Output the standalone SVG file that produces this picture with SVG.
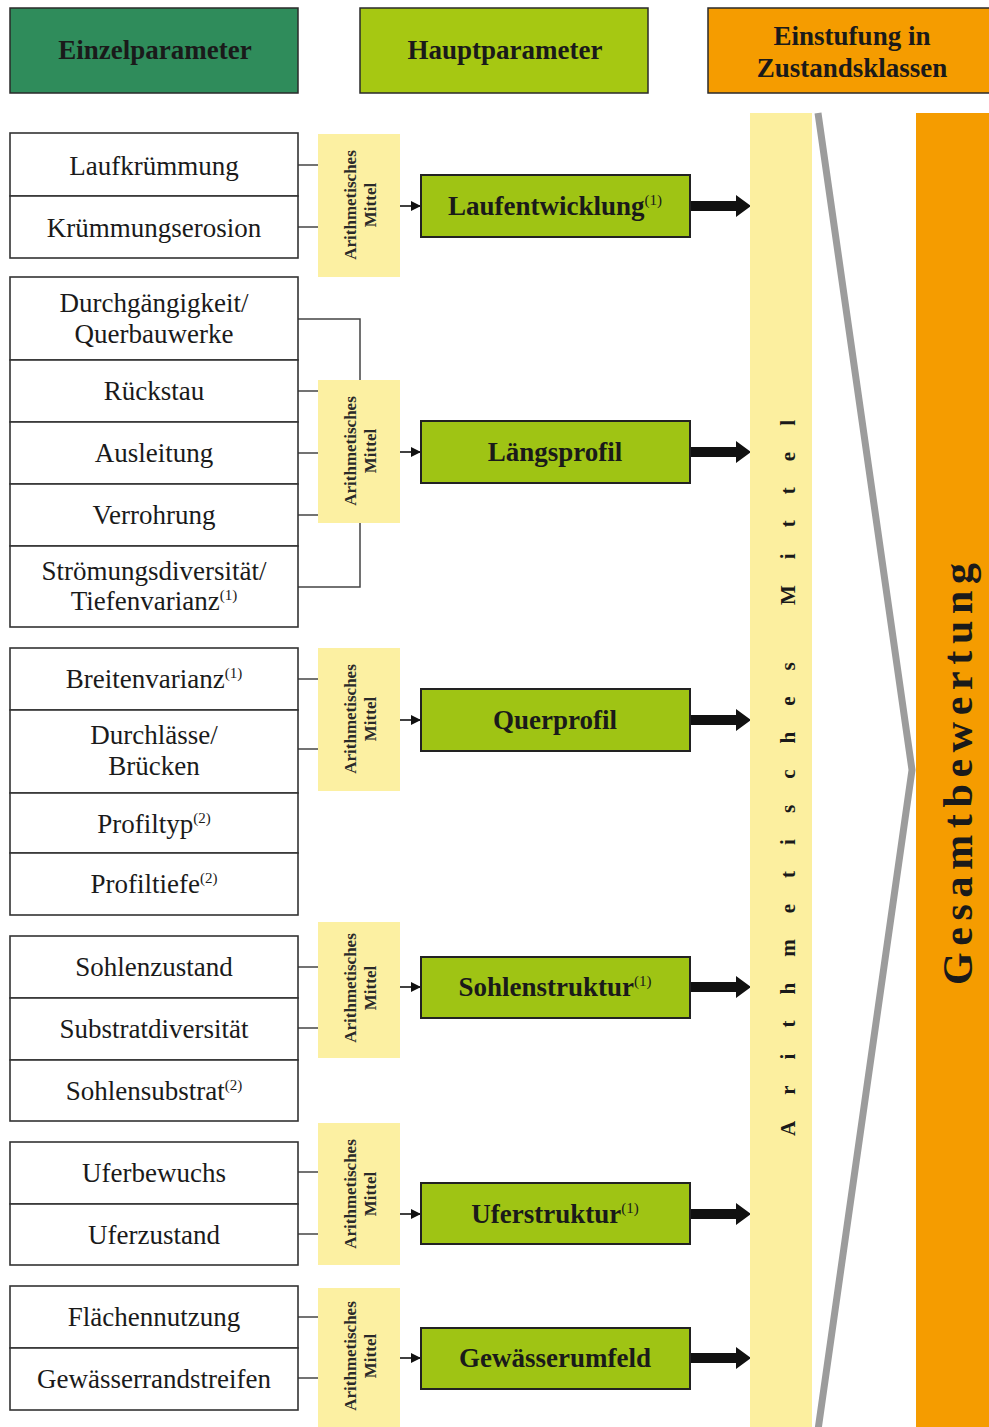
<svg xmlns="http://www.w3.org/2000/svg" width="989" height="1427" viewBox="0 0 989 1427">
<style>
.hdr{stroke:#2a2a2a;stroke-width:1.5}
.param rect{fill:#fff;stroke:#333;stroke-width:1.6}
.pt{font-family:"Liberation Serif",serif;font-size:27px;fill:#1a1a1a;text-anchor:middle}
.ht{font-family:"Liberation Serif",serif;font-size:27px;font-weight:bold;fill:#1a1a1a;text-anchor:middle}
.mean rect{fill:#fcf0a2}
.mt{font-family:"Liberation Serif",serif;font-size:17px;font-weight:bold;fill:#2a2a2a;text-anchor:middle}
.main rect{fill:#9fc414;stroke:#222;stroke-width:2}
.sup{font-size:15px;font-weight:normal}
.tick{stroke:#444;stroke-width:1.5;fill:none}
.big{fill:#111}
</style>
<defs>
<marker id="sa" viewBox="0 0 10 10" refX="10" refY="5" markerWidth="10" markerHeight="10" markerUnits="userSpaceOnUse" orient="auto">
<path d="M0,0 L10,5 L0,10 z" fill="#111"/>
</marker>
</defs>

<!-- headers -->
<g id="hdr-einzel"><rect class="hdr" x="10" y="8" width="288" height="85" fill="#2f8c5b"/><text class="ht" x="155" y="59">Einzelparameter</text></g>
<g id="hdr-haupt"><rect class="hdr" x="360" y="8" width="288" height="85" fill="#a6c812"/><text class="ht" x="505" y="59">Hauptparameter</text></g>
<g id="hdr-einstufung"><rect class="hdr" x="708" y="8" width="290" height="85" fill="#f59c00"/><text class="ht" x="852" y="45">Einstufung in</text><text class="ht" x="852" y="77">Zustandsklassen</text></g>

<!-- connectors -->
<g id="connectors">
<g class="tick">
<line x1="298" y1="165" x2="318" y2="165"/>
<line x1="298" y1="227" x2="318" y2="227"/>
<polyline points="298,319 360,319 360,587 298,587"/>
<line x1="298" y1="391" x2="318" y2="391"/>
<line x1="298" y1="453" x2="318" y2="453"/>
<line x1="298" y1="515" x2="318" y2="515"/>
<line x1="298" y1="679" x2="318" y2="679"/>
<line x1="298" y1="749" x2="318" y2="749"/>
<line x1="298" y1="967" x2="318" y2="967"/>
<line x1="298" y1="1028" x2="318" y2="1028"/>
<line x1="298" y1="1172" x2="318" y2="1172"/>
<line x1="298" y1="1234" x2="318" y2="1234"/>
<line x1="298" y1="1317" x2="318" y2="1317"/>
<line x1="298" y1="1378" x2="318" y2="1378"/>
</g>
<g stroke="#111" stroke-width="1.6" marker-end="url(#sa)">
<line x1="400" y1="206" x2="421" y2="206"/>
<line x1="400" y1="452" x2="421" y2="452"/>
<line x1="400" y1="720" x2="421" y2="720"/>
<line x1="400" y1="987" x2="421" y2="987"/>
<line x1="400" y1="1214" x2="421" y2="1214"/>
<line x1="400" y1="1358" x2="421" y2="1358"/>
</g>
<g class="big">
<path d="M690,201 H736 V195 L751,206 L736,217 V211 H690 Z"/>
<path d="M690,447 H736 V441 L751,452 L736,463 V457 H690 Z"/>
<path d="M690,715 H736 V709 L751,720 L736,731 V725 H690 Z"/>
<path d="M690,982 H736 V976 L751,987 L736,998 V992 H690 Z"/>
<path d="M690,1209 H736 V1203 L751,1214 L736,1225 V1219 H690 Z"/>
<path d="M690,1353 H736 V1347 L751,1358 L736,1369 V1363 H690 Z"/>
</g>
<polyline points="818,113 912,770 818,1430" fill="none" stroke="#9c9c9c" stroke-width="7"/>
</g>

<!-- group 1 -->
<g id="g1-laufkruemmung" class="param"><rect x="10" y="133" width="288" height="63"/><text class="pt" x="154" y="175">Laufkrümmung</text></g>
<g id="g1-kruemmungserosion" class="param"><rect x="10" y="196" width="288" height="62"/><text class="pt" x="154" y="237">Krümmungserosion</text></g>
<!-- group 2 -->
<g id="g2-durchgaengigkeit" class="param"><rect x="10" y="277" width="288" height="83"/><text class="pt" x="154" y="312">Durchgängigkeit/</text><text class="pt" x="154" y="343">Querbauwerke</text></g>
<g id="g2-rueckstau" class="param"><rect x="10" y="360" width="288" height="62"/><text class="pt" x="154" y="400">Rückstau</text></g>
<g id="g2-ausleitung" class="param"><rect x="10" y="422" width="288" height="62"/><text class="pt" x="154" y="462">Ausleitung</text></g>
<g id="g2-verrohrung" class="param"><rect x="10" y="484" width="288" height="62"/><text class="pt" x="154" y="524">Verrohrung</text></g>
<g id="g2-stroemung" class="param"><rect x="10" y="546" width="288" height="81"/><text class="pt" x="154" y="580">Strömungsdiversität/</text><text class="pt" x="154" y="610">Tiefenvarianz<tspan class="sup" dy="-10">(1)</tspan></text></g>
<!-- group 3 -->
<g id="g3-breitenvarianz" class="param"><rect x="10" y="648" width="288" height="62"/><text class="pt" x="154" y="688">Breitenvarianz<tspan class="sup" dy="-10">(1)</tspan></text></g>
<g id="g3-durchlaesse" class="param"><rect x="10" y="710" width="288" height="83"/><text class="pt" x="154" y="744">Durchlässe/</text><text class="pt" x="154" y="775">Brücken</text></g>
<g id="g3-profiltyp" class="param"><rect x="10" y="793" width="288" height="60"/><text class="pt" x="154" y="833">Profiltyp<tspan class="sup" dy="-10">(2)</tspan></text></g>
<g id="g3-profiltiefe" class="param"><rect x="10" y="853" width="288" height="62"/><text class="pt" x="154" y="893">Profiltiefe<tspan class="sup" dy="-10">(2)</tspan></text></g>
<!-- group 4 -->
<g id="g4-sohlenzustand" class="param"><rect x="10" y="936" width="288" height="62"/><text class="pt" x="154" y="976">Sohlenzustand</text></g>
<g id="g4-substratdiversitaet" class="param"><rect x="10" y="998" width="288" height="62"/><text class="pt" x="154" y="1038">Substratdiversität</text></g>
<g id="g4-sohlensubstrat" class="param"><rect x="10" y="1060" width="288" height="61"/><text class="pt" x="154" y="1100">Sohlensubstrat<tspan class="sup" dy="-10">(2)</tspan></text></g>
<!-- group 5 -->
<g id="g5-uferbewuchs" class="param"><rect x="10" y="1142" width="288" height="62"/><text class="pt" x="154" y="1182">Uferbewuchs</text></g>
<g id="g5-uferzustand" class="param"><rect x="10" y="1204" width="288" height="61"/><text class="pt" x="154" y="1244">Uferzustand</text></g>
<!-- group 6 -->
<g id="g6-flaechennutzung" class="param"><rect x="10" y="1286" width="288" height="62"/><text class="pt" x="154" y="1326">Flächennutzung</text></g>
<g id="g6-randstreifen" class="param"><rect x="10" y="1348" width="288" height="62"/><text class="pt" x="154" y="1388">Gewässerrandstreifen</text></g>

<!-- arithmetic mean boxes -->
<g id="mean1" class="mean"><rect x="318" y="134" width="82" height="143"/><text class="mt" transform="translate(356,205) rotate(-90)">Arithmetisches</text><text class="mt" transform="translate(376,205) rotate(-90)">Mittel</text></g>
<g id="mean2" class="mean"><rect x="318" y="380" width="82" height="143"/><text class="mt" transform="translate(356,451) rotate(-90)">Arithmetisches</text><text class="mt" transform="translate(376,451) rotate(-90)">Mittel</text></g>
<g id="mean3" class="mean"><rect x="318" y="648" width="82" height="143"/><text class="mt" transform="translate(356,719) rotate(-90)">Arithmetisches</text><text class="mt" transform="translate(376,719) rotate(-90)">Mittel</text></g>
<g id="mean4" class="mean"><rect x="318" y="922" width="82" height="136"/><text class="mt" transform="translate(356,988) rotate(-90)">Arithmetisches</text><text class="mt" transform="translate(376,988) rotate(-90)">Mittel</text></g>
<g id="mean5" class="mean"><rect x="318" y="1123" width="82" height="142"/><text class="mt" transform="translate(356,1194) rotate(-90)">Arithmetisches</text><text class="mt" transform="translate(376,1194) rotate(-90)">Mittel</text></g>
<g id="mean6" class="mean"><rect x="318" y="1288" width="82" height="139"/><text class="mt" transform="translate(356,1356) rotate(-90)">Arithmetisches</text><text class="mt" transform="translate(376,1356) rotate(-90)">Mittel</text></g>

<!-- main parameters -->
<g id="main-laufentwicklung" class="main"><rect x="421" y="175" width="269" height="62"/><text class="ht" x="555" y="215">Laufentwicklung<tspan class="sup" dy="-10">(1)</tspan></text></g>
<g id="main-laengsprofil" class="main"><rect x="421" y="421" width="269" height="62"/><text class="ht" x="555" y="461">Längsprofil</text></g>
<g id="main-querprofil" class="main"><rect x="421" y="689" width="269" height="62"/><text class="ht" x="555" y="729">Querprofil</text></g>
<g id="main-sohlenstruktur" class="main"><rect x="421" y="957" width="269" height="61"/><text class="ht" x="555" y="996">Sohlenstruktur<tspan class="sup" dy="-10">(1)</tspan></text></g>
<g id="main-uferstruktur" class="main"><rect x="421" y="1183" width="269" height="61"/><text class="ht" x="555" y="1223">Uferstruktur<tspan class="sup" dy="-10">(1)</tspan></text></g>
<g id="main-gewaesserumfeld" class="main"><rect x="421" y="1328" width="269" height="61"/><text class="ht" x="555" y="1367">Gewässerumfeld</text></g>

<!-- big columns -->
<g id="col-mean"><rect x="750" y="113" width="62" height="1314" fill="#fcef9f"/><text transform="translate(795,778) rotate(-90)" font-family="Liberation Serif, serif" font-size="21" font-weight="bold" fill="#1a1a1a" text-anchor="middle" textLength="716" lengthAdjust="spacing">Arithmetisches Mittel</text></g>
<g id="col-gesamt"><rect x="916" y="113" width="73" height="1314" fill="#f59c00"/><text transform="translate(972,774) rotate(-90)" font-family="Liberation Serif, serif" font-size="42" font-weight="bold" fill="#1a1a1a" text-anchor="middle" textLength="422" lengthAdjust="spacing">Gesamtbewertung</text></g>
</svg>
